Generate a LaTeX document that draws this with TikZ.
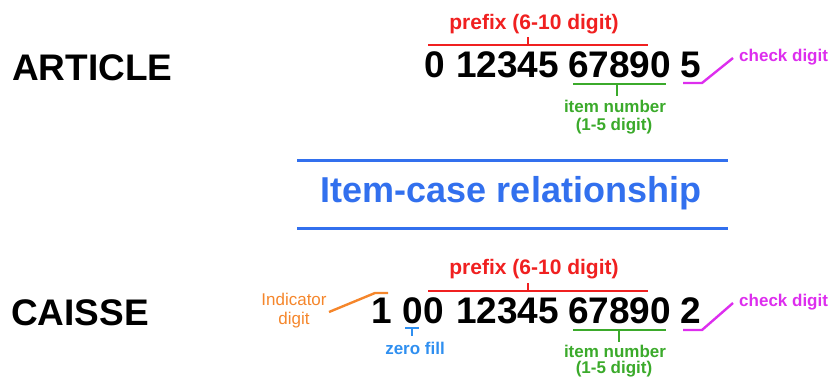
\documentclass[tikz,border=0pt]{standalone}
\usepackage{fontspec}
\setmainfont{Liberation Sans}
\definecolor{cred}{HTML}{F02020}
\definecolor{cgreen}{HTML}{3BAA2B}
\definecolor{cmag}{HTML}{DD2EEE}
\definecolor{corange}{HTML}{F5862B}
\definecolor{ctitle}{HTML}{3270EE}
\definecolor{czero}{HTML}{2F8FF0}
\begin{document}
\begin{tikzpicture}[x=1pt,y=-1pt,
  big/.style={font=\fontsize{37}{40}\selectfont\bfseries, inner sep=0, anchor=base},
  side/.style={font=\fontsize{37}{40}\selectfont\bfseries, inner sep=0, anchor=base west},
  lbl/.style={font=\fontsize{17}{19}\selectfont\bfseries, inner sep=0},
  pre/.style={font=\fontsize{21}{24}\selectfont\bfseries, inner sep=0, text=cred},
  brk/.style={line width=2.4pt},
]
\useasboundingbox (0,0) rectangle (829,380);
% left titles
\node[side] (article) at (12,80) {ARTICLE};
\node[side] (caisse) at (11,325) {CAISSE};
% top number
\node[big] (t0) at (435,77.5) {0};
\node[big] (t1) at (507.5,77.5) {12345};
\node[big] (t2) at (619.5,77.5) {67890};
\node[big] (t3) at (691,77.5) {5};
% top prefix
\node[pre] (tpre) at (534,24) {prefix (6-10 digit)};
\coordinate (tpa) at (428,45); \coordinate (tpb) at (648,45);
\coordinate (tpm) at (528,45); \coordinate (tpt) at (528,37);
\draw[brk,cred] (tpa) -- (tpb) (tpm) -- (tpt);
% top item number
\coordinate (tia) at (573,84); \coordinate (tib) at (666,84);
\coordinate (tim) at (617,84); \coordinate (tit) at (617,96);
\draw[brk,cgreen] (tia) -- (tib) (tim) -- (tit);
\node[lbl,text=cgreen] (titem) at (615,106) {item number};
\node[lbl,text=cgreen] (tdig) at (614,126) {(1-5 digit)};
% top check digit
\coordinate (tca) at (683,83); \coordinate (tcb) at (702,83); \coordinate (tcc) at (733,58);
\draw[brk,cmag] (tca) -- (tcb) -- (tcc);
\node[lbl,text=cmag,anchor=west] (tcheck) at (739,57) {check digit};
% middle
\coordinate (ma) at (297,160); \coordinate (mb) at (728,160);
\coordinate (mc) at (297,228); \coordinate (md) at (728,228);
\draw[line width=3pt,ctitle] (ma) -- (mb) (mc) -- (md);
\node[font=\fontsize{36}{40}\selectfont\bfseries, inner sep=0, anchor=base, text=ctitle] (title) at (511,202) {Item-case relationship};
% bottom number
\node[big] (b0) at (382,323) {1};
\node[big] (b1) at (423.5,323) {00};
\node[big] (b2) at (507.5,323) {12345};
\node[big] (b3) at (619.5,323) {67890};
\node[big] (b4) at (691,323) {2};
% bottom prefix
\node[pre] (bpre) at (534,269) {prefix (6-10 digit)};
\coordinate (bpa) at (428,291); \coordinate (bpb) at (648,291);
\coordinate (bpm) at (528,291); \coordinate (bpt) at (528,283);
\draw[brk,cred] (bpa) -- (bpb) (bpm) -- (bpt);
% indicator digit
\node[font=\fontsize{17}{19}\selectfont, inner sep=0, text=corange] (ind1) at (294,299) {Indicator};
\node[font=\fontsize{17}{19}\selectfont, inner sep=0, text=corange] (ind2) at (294,320) {digit};
\coordinate (ia) at (329,312); \coordinate (ib) at (375,293); \coordinate (ic) at (388,293);
\draw[brk,corange] (ia) -- (ib) -- (ic);
% zero fill
\coordinate (za) at (405,328); \coordinate (zb) at (419,328);
\coordinate (zm) at (412,328); \coordinate (zt) at (412,336);
\draw[brk,czero] (za) -- (zb) (zm) -- (zt);
\node[lbl,text=czero] (zero) at (415,348) {zero fill};
% bottom item number
\coordinate (bia) at (573,330); \coordinate (bib) at (666,330);
\coordinate (bim) at (619,330); \coordinate (bit) at (619,342);
\draw[brk,cgreen] (bia) -- (bib) (bim) -- (bit);
\node[lbl,text=cgreen] (bitem) at (615,351) {item number};
\node[lbl,text=cgreen] (bdig) at (614,369) {(1-5 digit)};
% bottom check digit
\coordinate (bca) at (683,330); \coordinate (bcb) at (702,330); \coordinate (bcc) at (733,303);
\draw[brk,cmag] (bca) -- (bcb) -- (bcc);
\node[lbl,text=cmag,anchor=west] (bcheck) at (739,302) {check digit};
\end{tikzpicture}
\end{document}
